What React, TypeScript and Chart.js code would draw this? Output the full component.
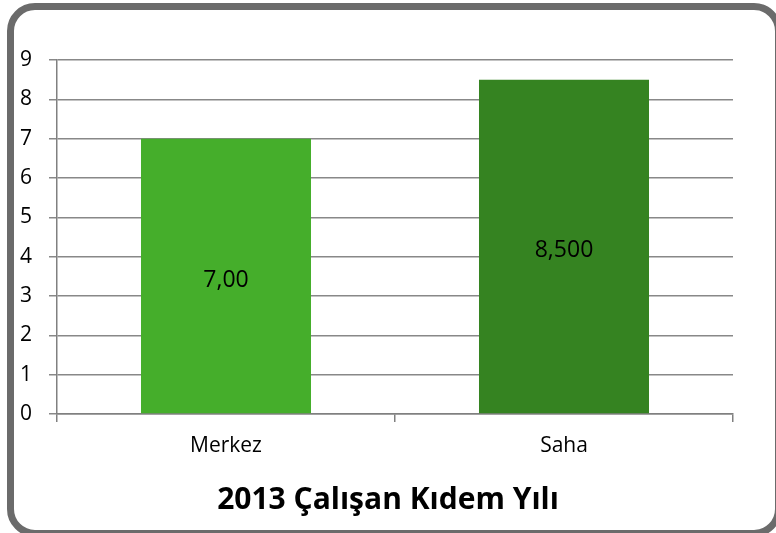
import React, { useEffect, useRef } from "react";
import { Chart, registerables } from "chart.js";

Chart.register(...registerables);

const categories = ["Merkez", "Saha"];
const values = [7, 8.5];
const valueLabels = ["7,00", "8,500"];
const barColors = ["#45ae2b", "#358321"];
const titleText = "2013 Çalışan Kıdem Yılı";
const yMin = 0;
const yMax = 9;

const FONT = "'Open Sans', sans-serif";

const valueLabelPlugin = {
  id: "valueLabels",
  afterDatasetsDraw(chart: any) {
    const ctx = chart.ctx;
    const meta = chart.getDatasetMeta(0);
    ctx.save();
    ctx.fillStyle = "#000";
    ctx.font = `23px ${FONT}`;
    ctx.textAlign = "center";
    ctx.textBaseline = "middle";
    meta.data.forEach((bar: any, i: number) => {
      const mid = (bar.y + bar.base) / 2 + 4;
      ctx.fillText(valueLabels[i], bar.x, mid);
    });
    ctx.restore();
  },
};

const bottomTitlePlugin = {
  id: "bottomTitle",
  afterDraw(chart: any) {
    const ctx = chart.ctx;
    ctx.save();
    ctx.fillStyle = "#000";
    ctx.font = `bold 30px ${FONT}`;
    ctx.textAlign = "center";
    ctx.textBaseline = "middle";
    ctx.fillText(titleText, chart.width / 2, 500);
    ctx.restore();
  },
};

export default function App() {
  const ref = useRef<HTMLCanvasElement | null>(null);
  useEffect(() => {
    document.body.style.margin = "0";
    if (!ref.current) return;
    const chart = new Chart(ref.current, {
      type: "bar",
      data: {
        labels: categories,
        datasets: [
          {
            data: values,
            backgroundColor: barColors,
            borderWidth: 0,
            categoryPercentage: 0.503,
            barPercentage: 1,
          },
        ],
      },
      options: {
        animation: false,
        responsive: false,
        maintainAspectRatio: false,
        layout: { padding: { left: 14, right: 43, top: 60, bottom: 58 } },
        plugins: {
          legend: { display: false },
          tooltip: { enabled: false },
          title: { display: false },
        },
        scales: {
          x: {
            grid: {
              display: true,
              drawOnChartArea: false,
              drawTicks: true,
              tickLength: 8,
              color: "#808080",
              lineWidth: 1.5,
              offset: true,
            },
            border: { display: true, color: "#808080", width: 1.5 },
            ticks: {
              color: "#000",
              font: { family: FONT, size: 21 },
              padding: 11,
            },
            afterFit(scale: any) {
              scale.height = 61;
            },
          },
          y: {
            min: yMin,
            max: yMax,
            grid: {
              color: "#888888",
              lineWidth: 1.5,
              tickLength: 8,
              drawTicks: true,
            },
            border: { display: true, color: "#808080", width: 1.5 },
            ticks: {
              stepSize: 1,
              color: "#000",
              font: { family: FONT, size: 21 },
              padding: 17,
            },
            afterFit(scale: any) {
              scale.width = 43;
            },
          },
        },
      },
      plugins: [valueLabelPlugin, bottomTitlePlugin],
    });
    return () => chart.destroy();
  }, []);

  return (
    <div
      style={{
        position: "relative",
        width: 776,
        height: 533,
        overflow: "hidden",
        background: "#fff",
      }}
    >
      <div
        style={{
          position: "absolute",
          left: 7,
          top: 3,
          width: 782 - 7,
          height: 537 - 3,
          boxSizing: "border-box",
          border: "7px solid #6b6b6b",
          borderRadius: 28,
          background: "#fff",
        }}
      />
      <canvas
        ref={ref}
        width={776}
        height={533}
        style={{ position: "absolute", left: 0, top: 0, display: "block" }}
      />
    </div>
  );
}
